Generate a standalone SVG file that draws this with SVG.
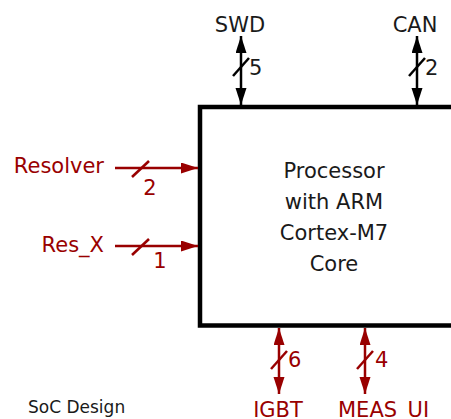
<svg xmlns="http://www.w3.org/2000/svg" width="451" height="419" viewBox="0 0 451 419">
  <style>
    .t { font-family: "DejaVu Sans", Verdana, sans-serif; font-size: 21px; }
    .blk { fill: #1a1a1a; }
    .red { fill: #990000; }
    .sb { stroke: #000; stroke-width: 2.5; fill: none; }
    .sr { stroke: #990000; stroke-width: 2.5; fill: none; }
  </style>
  <defs>
    <marker id="ab" markerUnits="userSpaceOnUse" markerWidth="18" markerHeight="12" refX="17" refY="5.5" orient="auto-start-reverse">
      <path d="M0,0 L17,5.5 L0,11 z" fill="#000"/>
    </marker>
    <marker id="ar" markerUnits="userSpaceOnUse" markerWidth="18" markerHeight="12" refX="17" refY="5.5" orient="auto-start-reverse">
      <path d="M0,0 L17,5.5 L0,11 z" fill="#990000"/>
    </marker>
  </defs>

  <g id="processor">
    <rect x="200" y="107" width="300" height="218.5" fill="#fff" stroke="#000" stroke-width="4.5"/>
    <text class="t blk" text-anchor="middle" x="334" y="178">Processor</text>
    <text class="t blk" text-anchor="middle" x="334" y="209">with ARM</text>
    <text class="t blk" text-anchor="middle" x="334" y="240">Cortex-M7</text>
    <text class="t blk" text-anchor="middle" x="334" y="271">Core</text>
  </g>

  <g id="connectors">
    <!-- SWD -->
    <line class="sb" x1="241" y1="36" x2="241" y2="105" marker-start="url(#ab)" marker-end="url(#ab)"/>
    <line class="sb" x1="233" y1="76" x2="249" y2="58" stroke-width="2"/>
    <!-- CAN -->
    <line class="sb" x1="417" y1="36" x2="417" y2="105" marker-start="url(#ab)" marker-end="url(#ab)"/>
    <line class="sb" x1="409" y1="76" x2="425" y2="58" stroke-width="2"/>
    <!-- Resolver -->
    <line class="sr" x1="115" y1="168" x2="198" y2="168" marker-end="url(#ar)"/>
    <line class="sr" x1="132" y1="177" x2="149" y2="161" stroke-width="2"/>
    <!-- Res_X -->
    <line class="sr" x1="115" y1="246" x2="198" y2="246" marker-end="url(#ar)"/>
    <line class="sr" x1="132" y1="255" x2="149" y2="239" stroke-width="2"/>
    <!-- IGBT -->
    <line class="sr" x1="279" y1="328" x2="279" y2="394" marker-start="url(#ar)" marker-end="url(#ar)"/>
    <line class="sr" x1="271" y1="369" x2="287" y2="351" stroke-width="2"/>
    <!-- MEAS_UI -->
    <line class="sr" x1="365" y1="328" x2="365" y2="394" marker-start="url(#ar)" marker-end="url(#ar)"/>
    <line class="sr" x1="357" y1="369" x2="373" y2="351" stroke-width="2"/>
  </g>

  <g id="swd">
    <text class="t blk" text-anchor="middle" x="240" y="32">SWD</text>
    <text class="t blk" x="249" y="75">5</text>
  </g>
  <g id="can">
    <text class="t blk" text-anchor="middle" x="415" y="32">CAN</text>
    <text class="t blk" x="425" y="75">2</text>
  </g>
  <g id="resolver">
    <text class="t red" text-anchor="end" x="104" y="173">Resolver</text>
    <text class="t red" text-anchor="middle" x="150" y="195">2</text>
  </g>
  <g id="res_x">
    <text class="t red" text-anchor="end" x="104" y="252">Res_X</text>
    <text class="t red" text-anchor="middle" x="160" y="268">1</text>
  </g>
  <g id="igbt">
    <text class="t red" text-anchor="middle" x="278" y="417">IGBT</text>
    <text class="t red" x="288" y="367">6</text>
  </g>
  <g id="meas_ui">
    <text class="t red" x="338" y="417">MEAS_UI</text>
    <text class="t red" x="375" y="367">4</text>
  </g>
  <g id="title">
    <text class="blk" x="28" y="413" style="font-family: 'DejaVu Sans', Verdana, sans-serif; font-size: 17px;">SoC Design</text>
  </g>
</svg>
